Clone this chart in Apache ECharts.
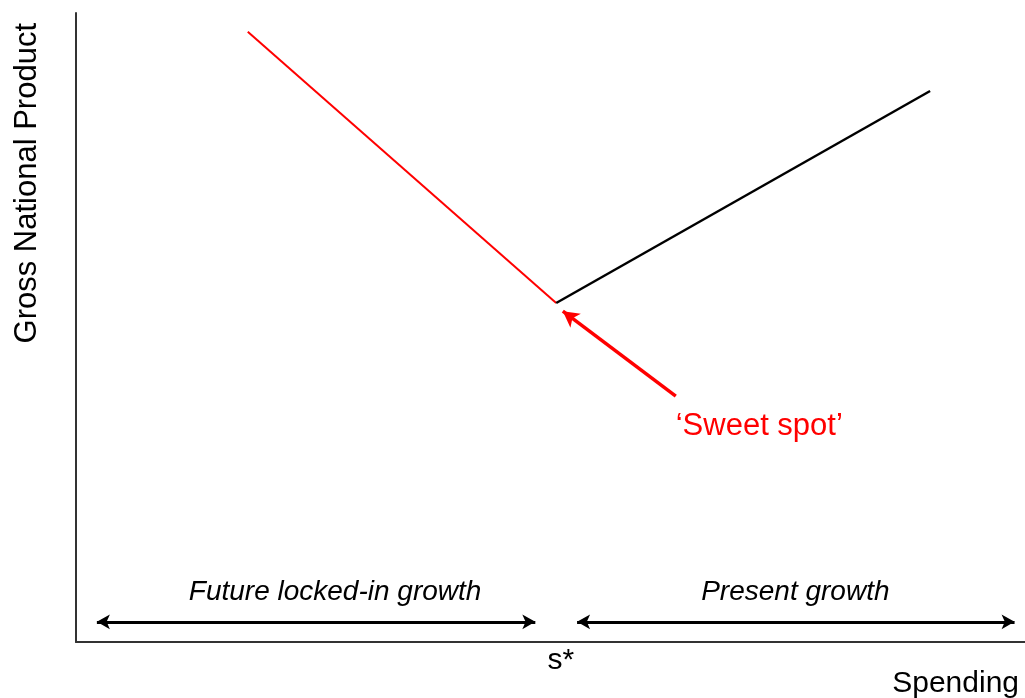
<!DOCTYPE html>
<html>
<head>
<meta charset="utf-8">
<script src="https://cdn.jsdelivr.net/npm/echarts@6/dist/echarts.min.js"></script>
<style>html,body{margin:0;padding:0;background:#fff;}#c{width:1025px;height:698px;}</style>
</head>
<body>
<div id="c"></div>
<script>
// Curve: spending (x) vs GNP (y), abstract units 0-100
const redSpending = [18.1, 50.6];
const redGnp = [97.0, 53.9];
const blackSpending = [50.6, 90.0];
const blackGnp = [53.9, 87.6];
// s* tick
const sStarTick = [51.1];
const sStarLabel = 's*';
// Sweet-spot arrow (tail -> tip)
const sweetArrowX = [63.2, 51.3];
const sweetArrowY = [39.1, 52.6];
// Range arrows
const rangeLeftX = [2.2, 48.4];
const rangeRightX = [52.8, 98.9];
const rangeY = 3.2;
// Text annotations
const annTexts = ['Future locked-in growth', 'Present growth', '\u2018Sweet spot\u2019'];
const annX = [27.3, 75.8, 72.0];
const annY = [7.9, 7.9, 34.3];

const FONT = 'Liberation Sans, Arial, sans-serif';
const chart = echarts.init(document.getElementById('c'), null, {renderer: 'canvas'});

const zip = (xs, ys) => xs.map((x, i) => [x, ys[i]]);

chart.setOption({
  animation: false,
  backgroundColor: '#fff',
  grid: {left: 76, right: 0, top: 13, bottom: 56, outerBoundsMode: 'none'},
  xAxis: {
    type: 'value', min: 0, max: 100,
    axisLine: {show: true, onZero: false, lineStyle: {color: '#333', width: 2}},
    axisTick: {show: false},
    splitLine: {show: false},
    axisLabel: {
      show: true, customValues: sStarTick, formatter: () => sStarLabel,
      color: '#000', fontSize: 30, fontFamily: FONT, margin: 4
    },
    name: 'Spending', nameLocation: 'end', nameGap: -6,
    nameTextStyle: {color: '#000', fontSize: 30, fontFamily: FONT, align: 'right', verticalAlign: 'top', padding: [27, 0, 0, 0]}
  },
  yAxis: {
    type: 'value', min: 0, max: 100,
    axisLine: {show: true, onZero: false, lineStyle: {color: '#333', width: 2}},
    axisTick: {show: false},
    splitLine: {show: false},
    axisLabel: {show: false},
    name: 'Gross National Product', nameLocation: 'end', nameRotate: 90, nameGap: -10,
    nameTextStyle: {color: '#000', fontSize: 31, fontFamily: FONT, align: 'right', verticalAlign: 'bottom', padding: [0, 0, 33, 0]}
  },
  series: [
    {
      type: 'line', data: zip(redSpending, redGnp), symbol: 'none',
      lineStyle: {color: '#ff0000', width: 2}, silent: true,
      markLine: {
        silent: true, symbol: ['none', 'arrow'], symbolSize: [13, 16],
        label: {show: false},
        lineStyle: {color: '#ff0000', width: 3.5, type: 'solid'},
        data: [[{coord: [sweetArrowX[0], sweetArrowY[0]]}, {coord: [sweetArrowX[1], sweetArrowY[1]]}]]
      }
    },
    {
      type: 'line', data: zip(blackSpending, blackGnp), symbol: 'none',
      lineStyle: {color: '#000', width: 2.5}, silent: true,
      markLine: {
        silent: true, symbol: ['arrow', 'arrow'], symbolSize: [11, 13],
        label: {show: false},
        lineStyle: {color: '#000', width: 3, type: 'solid'},
        data: [
          [{coord: [rangeLeftX[0], rangeY]}, {coord: [rangeLeftX[1], rangeY]}],
          [{coord: [rangeRightX[0], rangeY]}, {coord: [rangeRightX[1], rangeY]}]
        ]
      }
    },
    {
      type: 'scatter', symbolSize: 0, silent: true,
      itemStyle: {opacity: 1},
      data: annTexts.map((t, i) => ({
        value: [annX[i], annY[i]],
        label: {
          show: true, position: 'inside', formatter: t,
          fontSize: i === 2 ? 31 : 28,
          fontStyle: i === 2 ? 'normal' : 'italic',
          color: i === 2 ? '#ff0000' : '#000',
          opacity: 1,
          fontFamily: FONT
        }
      }))
    }
  ]
});
</script>
</body>
</html>
